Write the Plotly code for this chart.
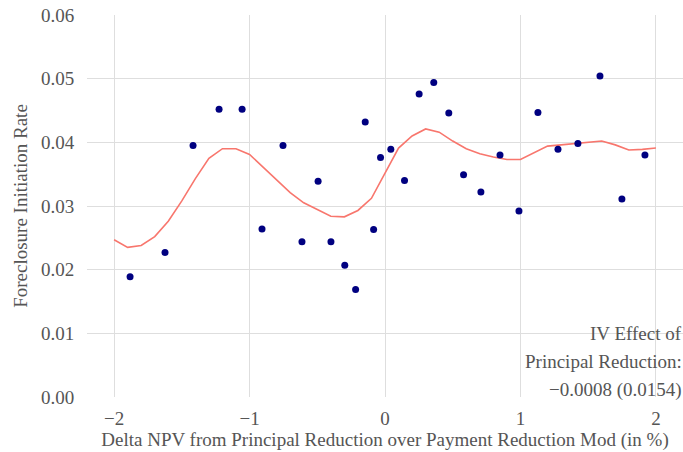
import plotly.graph_objects as go

# Binned scatter points
pts_x = [-1.882, -1.624, -1.417, -1.225, -1.055, -0.908, -0.753, -0.613, -0.494, -0.399,
         -0.297, -0.217, -0.146, -0.084, -0.033, 0.043, 0.144, 0.252, 0.360, 0.471,
         0.580, 0.708, 0.849, 0.989, 1.129, 1.277, 1.424, 1.587, 1.749, 1.919]
pts_y = [0.0189, 0.0227, 0.0395, 0.0452, 0.0452, 0.0264, 0.0395, 0.0244, 0.0339, 0.0244,
         0.0207, 0.0169, 0.0432, 0.0263, 0.0376, 0.0389, 0.0340, 0.0476, 0.0494, 0.0446,
         0.0349, 0.0322, 0.0380, 0.0292, 0.0447, 0.0389, 0.0398, 0.0504, 0.0311, 0.0380]

# Smoothed fit line
fit_x = [-2.0, -1.9, -1.8, -1.7, -1.6, -1.5, -1.4, -1.3, -1.2, -1.1, -1.0, -0.9, -0.8, -0.7,
         -0.6, -0.5, -0.4, -0.3, -0.2, -0.1, 0.0, 0.1, 0.2, 0.3, 0.4, 0.5, 0.6, 0.7, 0.8,
         0.9, 1.0, 1.1, 1.2, 1.3, 1.4, 1.5, 1.6, 1.7, 1.8, 1.9, 2.0]
fit_y = [0.0247, 0.0235, 0.0238, 0.0252, 0.0276, 0.0308, 0.0343, 0.0375, 0.0390, 0.0390,
         0.0381, 0.0361, 0.0341, 0.0321, 0.0305, 0.0295, 0.0284, 0.0283, 0.0293, 0.0312,
         0.0352, 0.0391, 0.0410, 0.0421, 0.0416, 0.0402, 0.0390, 0.0382, 0.0377, 0.0373,
         0.0373, 0.0383, 0.0394, 0.0396, 0.0398, 0.0400, 0.0402, 0.0396, 0.0388, 0.0389,
         0.0391]

x_ticks = [-2, -1, 0, 1, 2]
y_ticks = [0.00, 0.01, 0.02, 0.03, 0.04, 0.05, 0.06]
y_tick_labels = ["0.00", "0.01", "0.02", "0.03", "0.04", "0.05", "0.06"]

note_lines = ["IV Effect of", "Principal Reduction:", "\u22120.0008 (0.0154)"]
note_y = [0.0100, 0.0056, 0.0011]

FONT = "Liberation Serif"
TXT = "#555555"

fig = go.Figure()
fig.add_trace(go.Scatter(x=fit_x, y=fit_y, mode="lines",
                         line=dict(color="#F8766D", width=1.6), showlegend=False))
fig.add_trace(go.Scatter(x=pts_x, y=pts_y, mode="markers",
                         marker=dict(color="#000080", size=7), showlegend=False))

for t, yy in zip(note_lines, note_y):
    fig.add_annotation(text=t, x=1.0, xref="paper", y=yy, yref="y",
                       xanchor="right", yanchor="middle", showarrow=False,
                       borderpad=0, font=dict(family=FONT, size=19, color=TXT))

fig.update_layout(
    width=683, height=452,
    margin=dict(l=87, r=0, t=15, b=55, autoexpand=False),
    paper_bgcolor="white", plot_bgcolor="white",
    font=dict(family=FONT, size=19, color=TXT),
    xaxis=dict(range=[-2.2, 2.2], tickvals=x_ticks, showgrid=True, gridcolor="#DEDEDE",
               gridwidth=1, zeroline=False, showline=False, automargin=False,
               ticks="outside", ticklen=4, tickcolor="rgba(0,0,0,0)",
               ticklabeloverflow="allow",
               tickfont=dict(family=FONT, size=19, color=TXT),
               title=dict(text="Delta NPV from Principal Reduction over Payment Reduction Mod (in %)",
                          font=dict(family=FONT, size=19, color=TXT), standoff=4)),
    yaxis=dict(range=[0, 0.06], tickvals=y_ticks, ticktext=y_tick_labels, showgrid=True,
               gridcolor="#DEDEDE", gridwidth=1, zeroline=False, showline=False, automargin=False,
               ticks="outside", ticklen=8, tickcolor="rgba(0,0,0,0)",
               ticklabeloverflow="allow",
               tickfont=dict(family=FONT, size=19, color=TXT),
               title=dict(text="Foreclosure Initiation Rate",
                          font=dict(family=FONT, size=19, color=TXT), standoff=8)),
)

fig.write_html("out.html", config={"displayModeBar": False},
               post_script="document.body.style.margin='0';document.body.style.overflow='hidden';")
